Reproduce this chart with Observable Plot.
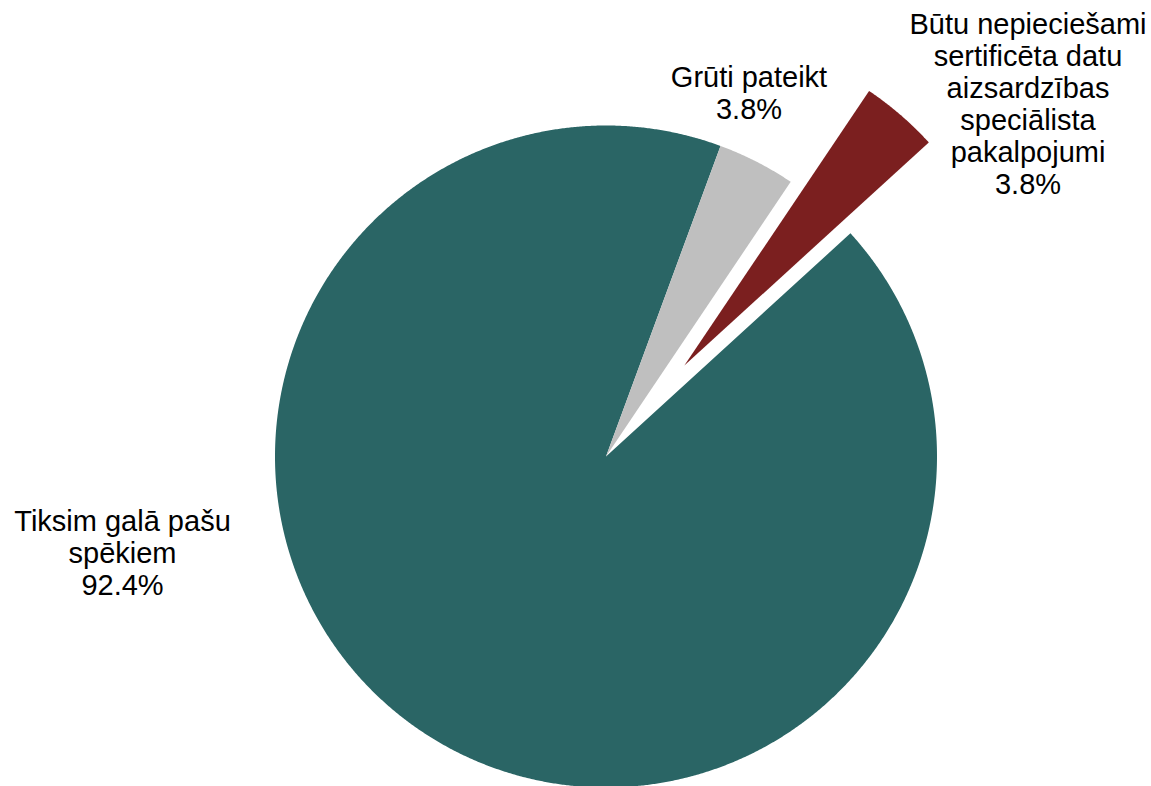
<!DOCTYPE html>
<html><head><meta charset="utf-8">
<script src="https://cdn.jsdelivr.net/npm/d3@7"></script>
<script src="https://cdn.jsdelivr.net/npm/@observablehq/plot@0.6"></script>
<style>html,body{margin:0;padding:0;background:#fff}</style>
</head><body><div id="chart"></div>
<script>
// ---- data ----
const categories = ["Tiksim galā pašu spēkiem", "Grūti pateikt", "Būtu nepieciešami sertificēta datu aizsardzības speciālista pakalpojumi"];
const values = [92.4, 3.8, 3.8];
const labelTexts = ["Tiksim galā pašu\nspēkiem", "Grūti pateikt", "Būtu nepieciešami\nsertificēta datu\naizsardzības\nspeciālista\npakalpojumi"];
const exploded = [0, 0, 1];
const colors = ["#2a6565", "#bfbfbf", "#7b1f1f"];

// ---- layout ----
const W = 1151, H = 786, cx = 605.5, cy = 456, R = 331, explodeDist = 120, startDeg = 47.6;
const labelPos = [[122, 594], [748.5, 118], [1027.5, 193]]; // center x, last baseline

const a0 = startDeg * Math.PI / 180;
const arcs = d3.pie().sort(null).startAngle(a0).endAngle(a0 + 2 * Math.PI)(values);
const pts = [];
arcs.forEach((a, i) => {
  const mid = (a.startAngle + a.endAngle) / 2;
  const ox = cx + exploded[i] * explodeDist * Math.sin(mid);
  const oy = cy - exploded[i] * explodeDist * Math.cos(mid);
  const n = Math.max(2, Math.ceil((a.endAngle - a.startAngle) / (Math.PI / 720)));
  pts.push({k: categories[i], x: ox, y: oy});
  for (let j = 0; j <= n; j++) {
    const t = a.startAngle + (a.endAngle - a.startAngle) * j / n;
    pts.push({k: categories[i], x: ox + R * Math.sin(t), y: oy - R * Math.cos(t)});
  }
  pts.push({k: categories[i], x: ox, y: oy});
});
const labels = categories.map((c, i) => ({
  text: `${labelTexts[i]}\n${values[i].toFixed(1)}%`, x: labelPos[i][0], y: labelPos[i][1]
}));

const chart = Plot.plot({
  width: W, height: H, margin: 0,
  x: {domain: [0, W], range: [0, W], axis: null},
  y: {domain: [0, H], range: [0, H], axis: null},
  color: {domain: categories, range: colors},
  style: {fontFamily: "'Liberation Sans', Arial, sans-serif", background: "#fff", overflow: "visible"},
  marks: [
    Plot.line(pts, {x: "x", y: "y", z: "k", fill: "k", stroke: "none", curve: "linear"}),
    Plot.text(labels, {x: "x", y: "y", text: "text", textAnchor: "middle", lineAnchor: "bottom",
      fontSize: 29, lineHeight: 32 / 29, fill: "#000"})
  ]
});
document.getElementById("chart").appendChild(chart);
</script>
</body></html>
